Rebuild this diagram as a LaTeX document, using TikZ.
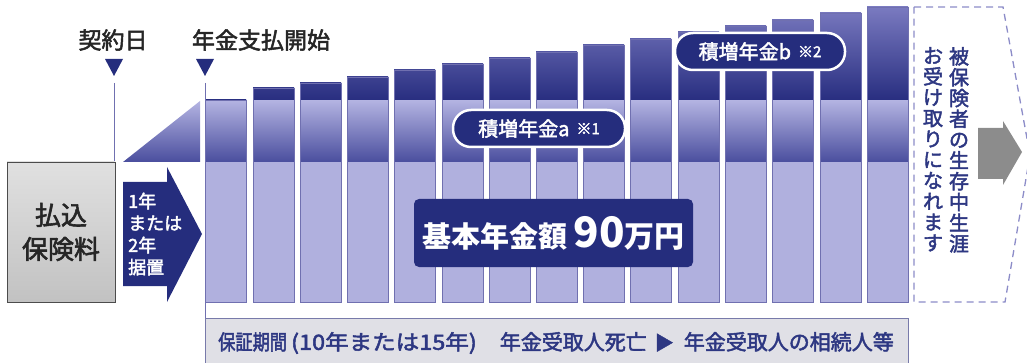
\documentclass[tikz,border=0pt]{standalone}
\usepackage{fontspec}
\setmainfont{Noto Sans CJK JP}[FakeBold=2.2]
\newfontfamily\plainjp{Noto Sans CJK JP}
\usetikzlibrary{calc}
\definecolor{navy}{RGB}{37,45,125}
\definecolor{barlo}{RGB}{176,176,222}
\definecolor{midhi}{RGB}{180,180,226}
\definecolor{midlo}{RGB}{74,78,158}
\definecolor{caphi}{RGB}{122,122,192}
\definecolor{caplo}{RGB}{40,46,128}
\definecolor{baredge}{RGB}{112,112,176}
\definecolor{dashblue}{RGB}{140,140,200}
\definecolor{boxgray}{RGB}{224,224,230}
\definecolor{boxedge}{RGB}{120,122,170}
\definecolor{textnavy}{RGB}{45,55,130}
\def\nenkinbar(#1:#2){%
  \fill[barlo] (#1,162) rectangle (#1+41,302);
  \shade[top color=midhi, bottom color=midlo] (#1,100) rectangle (#1+41,162);
  \begin{scope}
    \clip (#1,#2) rectangle (#1+41,100);
    \shade[top color=caphi, bottom color=caplo] (#1,7) rectangle (#1+41,100);
  \end{scope}
  \draw[baredge, line width=0.6pt] (#1,#2) rectangle (#1+41,302);
}

\begin{document}
\begin{tikzpicture}[x=1pt, y=-1pt,
    toplabel/.style={text=black!85, inner sep=0pt, font=\fontsize{23}{23}\selectfont},
    tickline/.style={draw=baredge, line width=0.8pt},
    pill/.style={fill=navy, draw=white, line width=2.5pt, rounded corners=18pt,
      minimum height=37pt, text=white, inner sep=0pt, font=\fontsize{20}{20}\selectfont},
    vcol/.style={text=textnavy, align=center, anchor=north, inner sep=0pt,
      font=\fontsize{20}{20.8}\selectfont}]
	%%%%% START %%%%%
	\useasboundingbox (0,0) rectangle (1027,363);
	
	% top labels and markers
	\node[toplabel] (keiyaku) at (113,40) {契約日};
	\node[toplabel] (shiharai) at (261,40) {年金支払開始};
	\fill[navy] (105,59) -- (123,59) -- (114,76) -- cycle;
	\fill[navy] (196,59) -- (214,59) -- (205,76) -- cycle;
	\coordinate (keiyakutop) at (114,83);
	\coordinate (keiyakubot) at (114,162);
	\coordinate (shiharaitop) at (205,83);
	\coordinate (shiharaibot) at (205,318);
	\draw[tickline] (keiyakutop) -- (keiyakubot);
	
	% premium box
	\node[draw=black!70, line width=0.8pt, top color=black!12, bottom color=black!24,
	  minimum width=108pt, minimum height=140pt, align=center, text=black!85,
	  font=\fontsize{26}{34}\selectfont] (haraikomi) at (61,232) {払込\\保険料};
	
	% deferment arrow
	\fill[navy] (123,182) -- (167,182) -- (167,167) -- (202,234) -- (167,302) -- (167,286) -- (123,286) -- cycle;
	\node[anchor=west, align=left, text=white, inner sep=0pt,
	  font=\fontsize{18}{22}\selectfont] (sueoki) at (128,234) {1年\\または\\2年\\据置};
	
	% ramp
	\shade[top color=midhi, bottom color=midlo] (123,162) -- (200,101) -- (200,162) -- cycle;
	
	% pension bars
	\nenkinbar(205:100)
	\nenkinbar(253:88)
	\nenkinbar(300:83)
	\nenkinbar(347:77)
	\nenkinbar(394:70)
	\nenkinbar(442:64)
	\nenkinbar(489:58)
	\nenkinbar(536:52)
	\nenkinbar(583:45)
	\nenkinbar(630:39)
	\nenkinbar(678:32)
	\nenkinbar(725:26)
	\nenkinbar(772:20)
	\nenkinbar(820:13)
	\nenkinbar(867:7)
	\draw[tickline] (shiharaitop) -- (shiharaibot);
	
	% labels on bars
	\node[pill, minimum width=172pt] (tsumia) at (539,128.5)
	  {積増年金a\hspace{7pt}\raisebox{2pt}{\fontsize{15}{15}\selectfont ※1}};
	\node[pill, minimum width=170pt] (tsumib) at (760,51.5)
	  {積増年金b\hspace{7pt}\raisebox{2pt}{\fontsize{15}{15}\selectfont ※2}};
	\node[fill=navy, rounded corners=5pt, minimum width=279pt, minimum height=68pt,
	  text=white, inner sep=0pt, font=\plainjp\bfseries] (kihon) at (553.5,233)
	  {\fontsize{29}{29}\selectfont 基本年金額\hspace{6pt}{\fontsize{42}{42}\selectfont 90}{\fontsize{30}{30}\selectfont 万円}};
	
	% lifetime part
	\draw[dashblue, line width=1.3pt, dash pattern=on 7pt off 5pt]
	  (914,7) -- (1003,7) -- (1030,155) -- (1005,302) -- (914,302) -- cycle;
	\node[vcol] (shogai) at (959,47) {被\\保\\険\\者\\の\\生\\存\\中\\生\\涯};
	\node[vcol] (uketori) at (933,47) {お\\受\\け\\取\\り\\に\\な\\れ\\ま\\す};
	\fill[black!45] (978,128) -- (1003,128) -- (1003,121) -- (1022,152) -- (1003,185) -- (1003,179) -- (978,179) -- cycle;
	
	% guarantee period
	\draw[fill=boxgray, draw=boxedge, line width=0.8pt] (205,318) rectangle (908,370);
	\node[anchor=west, inner sep=0pt, text=textnavy, font=\fontsize{21}{21}\selectfont] (hosho) at (218,343)
	  {\scalebox{0.82}[1]{保証期間}\hspace{4pt}\scalebox{1.12}[1]{(10年または15年)}\hspace{23pt}年金受取人死亡\hspace{8pt}{\fontsize{19}{19}\selectfont ▶}\hspace{10pt}年金受取人の相続人等};
	
	%%%%% END %%%%%
\end{tikzpicture}
\end{document}
